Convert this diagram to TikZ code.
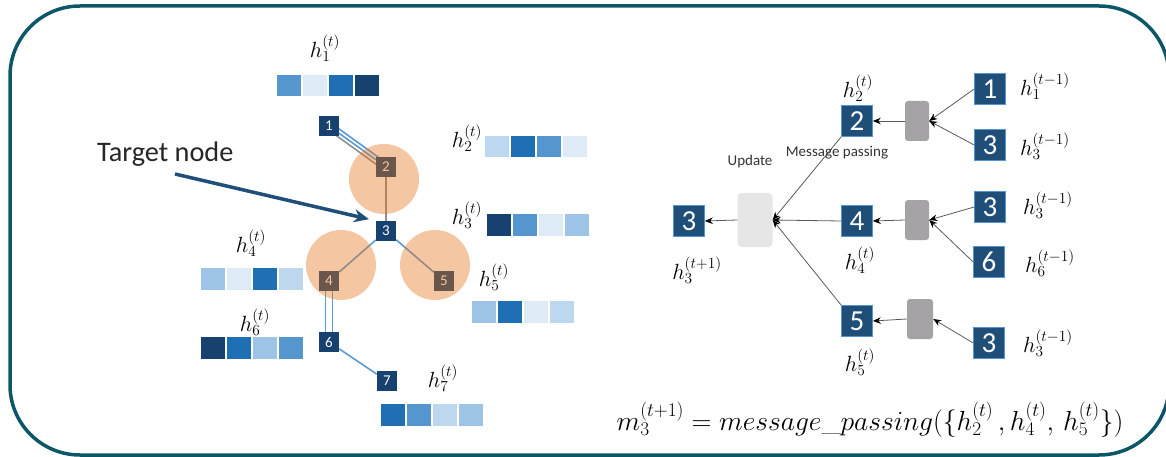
\RequirePackage{fix-cm}
\documentclass[tikz,border=0pt]{standalone}
\usepackage{fontspec}
\newfontfamily\calib{Carlito}
\usetikzlibrary{arrows.meta,calc}
\definecolor{frame}{HTML}{0B5767}
\definecolor{navy}{HTML}{17426F}
\definecolor{rnavy}{HTML}{1F4E79}
\definecolor{vA}{HTML}{17426F}
\definecolor{vB}{HTML}{1F6FB4}
\definecolor{vC}{HTML}{5596CE}
\definecolor{vD}{HTML}{9DC3E6}
\definecolor{vE}{HTML}{BDD7EE}
\definecolor{vF}{HTML}{DEEBF7}
\definecolor{edgeblue}{HTML}{5B9BD5}
\definecolor{edgegrey}{HTML}{8F8F8F}
\definecolor{halo}{RGB}{228,116,28}
\definecolor{msgbox}{HTML}{A6A3A6}
\definecolor{updbox}{HTML}{E6E6E6}
\pgfdeclarelayer{back}
\pgfdeclarelayer{front}
\pgfsetlayers{back,main,front}
\newcommand\hvec[3]{%
  \foreach \c [count=\i from 0] in {#3}
    {\fill[fill=\c] ($(#1,#2)+(\i*26,0)$) rectangle ++(23.5,21.5);}}
\begin{document}
\begin{tikzpicture}[x=1pt,y=-1pt,
  gnode/.style={fill=navy,text=white,minimum size=20pt,inner sep=0pt,
    font=\calib\fontsize{15}{15}\selectfont},
  rnode/.style={fill=rnavy,draw=vC,line width=0.6pt,text=white,minimum size=31pt,
    inner sep=0pt,font=\calib\fontsize{29}{29}\selectfont},
  lbl/.style={inner sep=0pt,font=\fontsize{22}{22}\selectfont},
  steplabel/.style={inner sep=0pt,text=black!80,font=\calib\fontsize{15}{15}\selectfont},
  gedge/.style={draw=edgeblue,line width=1.6pt},
  gedgeg/.style={draw=edgegrey,line width=1.6pt},
  flow/.style={draw=black!65,line width=0.8pt,
    -{Stealth[length=8pt,width=6.5pt,color=black]}},
  msg/.style={fill=msgbox,rounded corners=3pt,minimum width=24pt,minimum height=40pt,inner sep=0pt},
  upd/.style={fill=updbox,rounded corners=4pt,minimum width=35pt,minimum height=54pt,inner sep=0pt},
  tarrow/.style={draw=rnavy,line width=3.5pt,-{Stealth[length=15pt,width=13pt]},shorten >=7pt}]
\useasboundingbox (0,0) rectangle (1166,457);

% outer frame
\draw[frame,line width=3.5pt,rounded corners=70pt] (10,6) rectangle (1169,455);

% ---------------- graph on the left ----------------
\node[gnode] (L1) at (329,126) {1};
\node[gnode] (L2) at (386,167) {2};
\node[gnode] (L3) at (386,231) {3};
\node[gnode] (L4) at (329,281) {4};
\node[gnode] (L5) at (444,281) {5};
\node[gnode] (L6) at (329,342) {6};
\node[gnode] (L7) at (387,381) {7};

\begin{pgfonlayer}{back}
  \draw[gedge]  ($(L1)!3.5pt!90:(L2)$) -- ($(L2)!3.5pt!-90:(L1)$);
  \draw[gedge]  (L1) -- (L2);
  \draw[gedgeg] ($(L1)!3.5pt!-90:(L2)$) -- ($(L2)!3.5pt!90:(L1)$);
  \draw[gedgeg] (L2) -- (L3);
  \draw[gedge]  (L3) -- (L4);
  \draw[gedge]  (L3) -- (L5);
  \draw[gedge]  ($(L4)!3.5pt!90:(L6)$) -- ($(L6)!3.5pt!-90:(L4)$);
  \draw[gedge]  ($(L4)!3.5pt!-90:(L6)$) -- ($(L6)!3.5pt!90:(L4)$);
  \draw[gedge]  (L6) -- (L7);
\end{pgfonlayer}

% neighbourhood of the target node
\begin{pgfonlayer}{front}
  \fill[halo,opacity=0.41] ($(L2)+(-2,12)$) circle[radius=35pt];
  \fill[halo,opacity=0.41] ($(L4)+(12,-16)$) circle[radius=35pt];
  \fill[halo,opacity=0.41] ($(L5)+(-9,-16)$) circle[radius=35pt];
\end{pgfonlayer}

% feature vectors
\hvec{277}{75}{vC,vF,vB,vA}
\hvec{485}{136}{vE,vB,vC,vF}
\hvec{487}{214}{vA,vC,vF,vD}
\hvec{201}{268}{vD,vF,vB,vE}
\hvec{472}{301}{vD,vB,vF,vE}
\hvec{201}{337}{vA,vB,vD,vC}
\hvec{381}{404}{vB,vC,vE,vD}

\node[lbl] (hl1) at (325,48)  {$h_1^{(t)}$};
\node[lbl] (hl2) at (467,138) {$h_2^{(t)}$};
\node[lbl] (hl3) at (467,215) {$h_3^{(t)}$};
\node[lbl] (hl4) at (251,243) {$h_4^{(t)}$};
\node[lbl] (hl5) at (494,277) {$h_5^{(t)}$};
\node[lbl] (hl6) at (255,322) {$h_6^{(t)}$};
\node[lbl] (hl7) at (443,378) {$h_7^{(t)}$};

\node[anchor=base west,inner sep=0pt,text=black!85,font=\calib\fontsize{28.3}{28.3}\selectfont]
  (tn) at (97,161) {Target node};
\coordinate (tstart) at (175,174);
\draw[tarrow] (tstart) -- (L3.north west);

% ---------------- computation tree on the right ----------------
\node[rnode] (R3o) at (689,221) {3};
\node[upd]   (U)   at (755,220) {};
\node[rnode] (R2)  at (857,121) {2};
\node[rnode] (R4)  at (857,221) {4};
\node[rnode] (R5)  at (857,321) {5};
\node[msg]   (M1)  at (917,121) {};
\node[msg]   (M2)  at (917,220) {};
\node[msg,minimum width=26pt] (M3) at (920,319) {};
\node[rnode] (S1)  at (990,89)  {1};
\node[rnode] (S3a) at (990,145) {3};
\node[rnode] (S3b) at (990,207) {3};
\node[rnode] (S6)  at (989,262) {6};
\node[rnode] (S3c) at (989,343) {3};

\draw[flow] (S1.west)  -- (M1.east);
\draw[flow] (S3a.west) -- (M1.east);
\draw[flow] (S3b.west) -- (M2.east);
\draw[flow] (S6.west)  -- (M2.east);
\draw[flow] (S3c.west) -- (M3.east);
\draw[flow] (M1.west) -- (R2.east);
\draw[flow] (M2.west) -- (R4.east);
\draw[flow] (M3.west) -- (R5.east);
\draw[flow] (R2.south west) -- (U.east);
\draw[flow] (R4.west) -- (U.east);
\draw[flow] (R5.north west) -- (U.east);
\draw[flow] (U.west) -- (R3o.east);

\node[steplabel] (tu) at (750,162) {Update};
\node[steplabel] (tm) at (837,153) {Message passing};

\node[lbl] (hr2)  at (858,88)   {$h_2^{(t)}$};
\node[lbl] (hr4)  at (860,260)  {$h_4^{(t)}$};
\node[lbl] (hr5)  at (860,362)  {$h_5^{(t)}$};
\node[lbl] (hr3o) at (697,270)  {$h_3^{(t+1)}$};
\node[lbl] (hs1)  at (1045,86)  {$h_1^{(t-1)}$};
\node[lbl] (hs3a) at (1045,146) {$h_3^{(t-1)}$};
\node[lbl] (hs3b) at (1048,205) {$h_3^{(t-1)}$};
\node[lbl] (hs6)  at (1050,263) {$h_6^{(t-1)}$};
\node[lbl] (hs3c) at (1048,343) {$h_3^{(t-1)}$};

\node[inner sep=0pt,font=\fontsize{27.6}{27.6}\selectfont] (eq) at (870,420)
  {$m_3^{(t+1)} = message\_passing(\{h_2^{(t)}\,,h_4^{(t)},\,h_5^{(t)}\})$};
\end{tikzpicture}
\end{document}
